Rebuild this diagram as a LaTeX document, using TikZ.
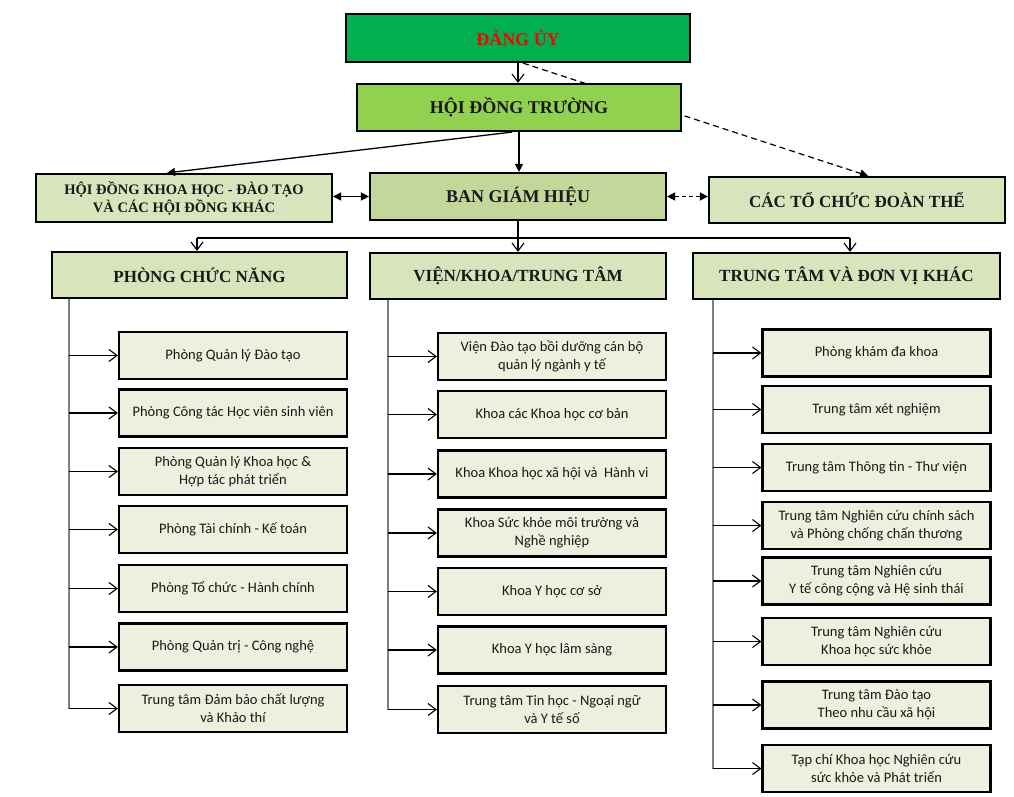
\documentclass[tikz,border=0pt]{standalone}
\usepackage{fontspec}
\setmainfont{Liberation Serif}
\newfontfamily\calfont{Carlito}
\usetikzlibrary{arrows.meta,backgrounds,calc}
\definecolor{cDU}{HTML}{00B050}
\definecolor{cHDT}{HTML}{92D050}
\definecolor{cBGH}{HTML}{C4D79B}
\definecolor{cHdr}{HTML}{D8E4BC}
\definecolor{cChild}{HTML}{EBF1DE}
\definecolor{cSpine}{HTML}{7F7F7F}
\definecolor{cRed}{HTML}{FF0000}
\begin{document}
\begin{tikzpicture}[x=1pt,y=-1pt,
  box/.style={draw=black,line width=2.2pt,inner sep=0pt,align=center,text=black!90},
  topbox/.style={box,font=\fontsize{18}{21}\selectfont\bfseries},
  hdrbox/.style={box,fill=cHdr,minimum height=46pt,font=\fontsize{17}{20}\selectfont\bfseries},
  child/.style={box,fill=cChild,minimum width=228pt,minimum height=47pt,font=\calfont\fontsize{14.5}{18}\selectfont},
  openarr/.style={-{Straight Barb[length=8pt,width=12pt,line width=1.1pt]},line width=1.1pt,draw=black},
  solidarr/.style={-{Triangle[length=8pt,width=8pt]},line width=1.3pt,draw=black},
  bothsolid/.style={{Triangle[length=8pt,width=8pt]}-{Triangle[length=8pt,width=8pt]},line width=1.4pt,draw=black},
  spine/.style={draw=cSpine,line width=1.5pt}
]
\useasboundingbox (0,0) rectangle (1014,797);

% top boxes
\node[topbox,fill=cDU,minimum width=344pt,minimum height=48pt,text=cRed] (du) at (518,38) {ĐẢNG ỦY};
\node[topbox,fill=cHDT,minimum width=324pt,minimum height=47pt] (hdt) at (519,107.5) {HỘI ĐỒNG TRƯỜNG};
\node[topbox,fill=cBGH,minimum width=296pt,minimum height=47pt] (bgh) at (518,196.5) {BAN GIÁM HIỆU};
\node[box,fill=cHdr,minimum width=296pt,minimum height=48pt,font=\fontsize{14.5}{18}\selectfont\bfseries] (hdkh) at (184,198) {HỘI ĐỒNG KHOA HỌC - ĐÀO TẠO\\VÀ CÁC HỘI ĐỒNG KHÁC};
\node[hdrbox,minimum width=296pt] (ctcd) at (857,200) {CÁC TỔ CHỨC ĐOÀN THỂ};

% headers
\node[hdrbox,minimum width=295pt] (pcn) at (199.5,275) {PHÒNG CHỨC NĂNG};
\node[hdrbox,minimum width=296pt] (vkt) at (518,276) {VIỆN/KHOA/TRUNG TÂM};
\node[hdrbox,minimum width=307pt] (ttdv) at (846.5,276) {TRUNG TÂM VÀ ĐƠN VỊ KHÁC};

% left children
\node[child] (l1) at (233,355.5) {Phòng Quản lý Đào tạo};
\node[child] (l2) at (233,413) {Phòng Công tác Học viên sinh viên};
\node[child] (l3) at (233,471.5) {Phòng Quản lý Khoa học \&\\Hợp tác phát triển};
\node[child] (l4) at (233,529.5) {Phòng Tài chính - Kế toán};
\node[child] (l5) at (233,588.5) {Phòng Tổ chức - Hành chính};
\node[child] (l6) at (233,647) {Phòng Quản trị - Công nghệ};
\node[child] (l7) at (233,708.5) {Trung tâm Đảm bảo chất lượng\\và Khảo thí};

% middle children
\node[child] (m1) at (552,356.5) {Viện Đào tạo bồi dưỡng cán bộ\\quản lý ngành y tế};
\node[child] (m2) at (552,414.5) {Khoa các Khoa học cơ bản};
\node[child] (m3) at (552,474) {Khoa Khoa học xã hội và\ \ Hành vi};
\node[child] (m4) at (552,533) {Khoa Sức khỏe môi trường và\\Nghề nghiệp};
\node[child] (m5) at (552,591.5) {Khoa Y học cơ sở};
\node[child] (m6) at (552,650) {Khoa Y học lâm sàng};
\node[child] (m7) at (552,709.5) {Trung tâm Tin học - Ngoại ngữ\\và Y tế số};

% right children
\node[child] (r1) at (876.5,353) {Phòng khám đa khoa};
\node[child] (r2) at (876.5,409.5) {Trung tâm xét nghiệm};
\node[child] (r3) at (876.5,467.5) {Trung tâm Thông tin - Thư viện};
\node[child] (r4) at (876.5,525.5) {Trung tâm Nghiên cứu chính sách\\và Phòng chống chấn thương};
\node[child] (r5) at (876.5,581) {Trung tâm Nghiên cứu\\Y tế công cộng và Hệ sinh thái};
\node[child] (r6) at (876.5,641.5) {Trung tâm Nghiên cứu\\Khoa học sức khỏe};
\node[child] (r7) at (876.5,705) {Trung tâm Đào tạo\\Theo nhu cầu xã hội};
\node[child] (r8) at (876.5,768.5) {Tạp chí Khoa học Nghiên cứu\\sức khỏe và Phát triển};

% dashed line behind HĐT
\begin{scope}[on background layer]
\fill[white] (0,0) rectangle (1014,797);
\draw[-{Triangle[length=8pt,width=8pt]},line width=1.2pt,dash pattern=on 6pt off 4pt] ([xshift=5pt]du.south) -- ([xshift=11pt]ctcd.north);
\end{scope}

% top connectors
\draw[openarr] (du.south) -- (du.south |- hdt.north);
\draw[solidarr] (hdt.south) -- (hdt.south |- bgh.north);
\draw[solidarr] ([xshift=-7pt]hdt.south) -- ([xshift=-17pt]hdkh.north);
\draw[bothsolid] (hdkh.east |- bgh.west) -- (bgh.west);
\draw[bothsolid,dash pattern=on 4pt off 3pt] (bgh.east) -- (bgh.east -| ctcd.west);

% bus
\coordinate (busM) at (518,238);
\coordinate (busL) at (197,238);
\coordinate (busR) at (850,238);
\draw[line width=1.2pt] (bgh.south) -- (busM);
\draw[line width=1.2pt] (busL) -- (busR);
\draw[openarr] (busL) -- (busL |- pcn.north);
\draw[openarr] (busM) -- (busM |- vkt.north);
\draw[openarr] (busR) -- (busR |- ttdv.north);

% spines
\coordinate (sL) at (69,0);
\coordinate (sM) at (388,0);
\coordinate (sR) at (713,0);
\draw[spine] (sL |- pcn.south) -- (sL |- l7.west);
\draw[spine] (sM |- vkt.south) -- (sM |- m7.west);
\draw[spine] (sR |- ttdv.south) -- (sR |- r8.west);
\foreach \n in {l1,l2,l3,l4,l5,l6,l7} {\draw[openarr] (sL |- \n.west) -- (\n.west);}
\foreach \n in {m1,m2,m3,m4,m5,m6,m7} {\draw[openarr] (sM |- \n.west) -- (\n.west);}
\foreach \n in {r1,r2,r3,r4,r5,r6,r7,r8} {\draw[openarr] (sR |- \n.west) -- (\n.west);}
\end{tikzpicture}
\end{document}
